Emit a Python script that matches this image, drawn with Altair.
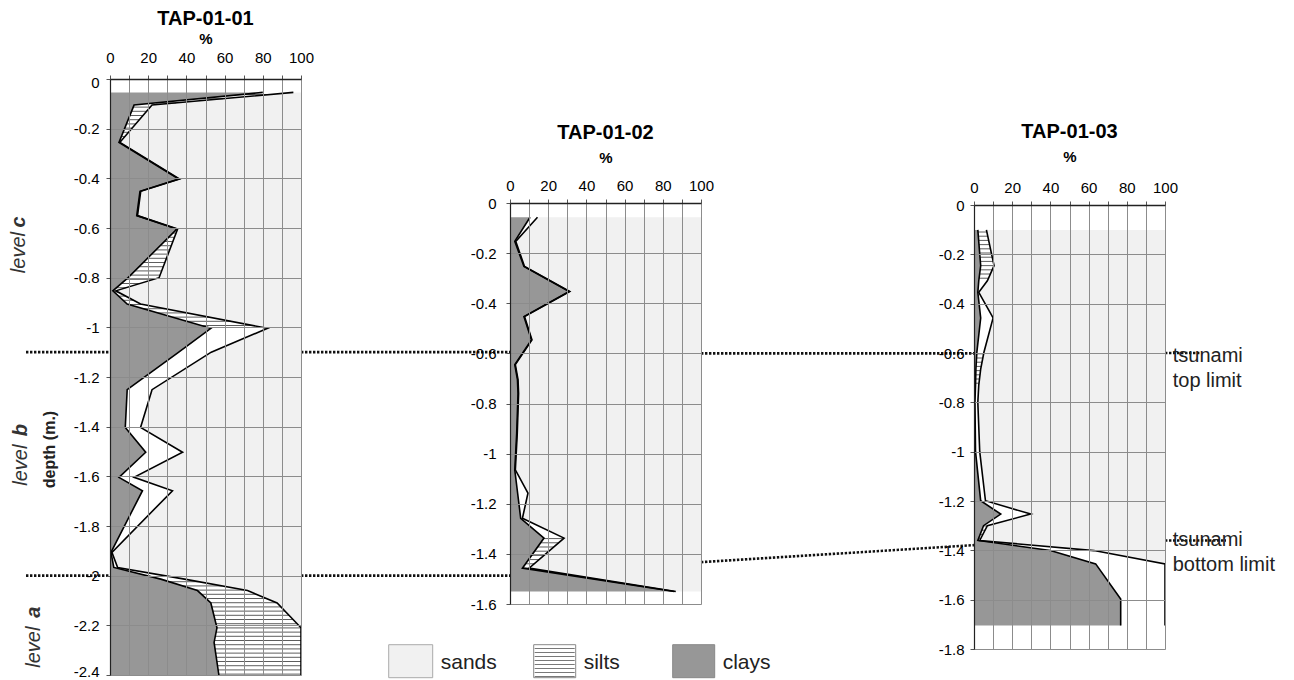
import altair as alt
import pandas as pd
import numpy as np

FONT = "Liberation Sans"
CLAY_COLOR = "#979797"
SAND_COLOR = "#f1f1f1"
GRID_COLOR = "#8c8c8c"
W = 191

# ---------------- data ----------------
# depth (m), clays %, clays+silts % (upper curve); sands = rest up to 100
p1_depth = [-0.054, -0.105, -0.255, -0.403, -0.452, -0.55, -0.604, -0.8, -0.853, -0.906,
            -1.004, -1.1, -1.251, -1.403, -1.503, -1.604, -1.658, -1.906, -1.967, -2.014,
            -2.06, -2.11, -2.21, -2.269, -2.4]
p1_clay = [80, 12.6, 4.7, 36, 15.7, 14, 35, 9.5, 1.5, 9,
           52.8, 36, 9, 8, 18.7, 4.7, 17, 0.5, 2, 26.6,
           45.8, 52.8, 56, 54.5, 57]
p1_clay_silt = [96, 22, 5.2, 36.4, 16.1, 14.4, 35.4, 25.7, 3, 16,
                82.5, 53, 22, 16, 38, 12.6, 32.7, 1, 4, 39,
                72, 87.5, 100, 100, 100]
# hatched silt between sample i and i+1
p1_hatch = [1, 1, 0, 0, 0, 0, 1, 1, 1, 1, 0, 0, 0, 0, 0, 0, 0, 0, 0, 1, 1, 1, 1, 1]

p2_depth = [-0.057, -0.153, -0.253, -0.353, -0.453, -0.546, -0.645, -0.705, -0.76, -0.92,
            -1.065, -1.158, -1.258, -1.337, -1.457, -1.55]
p2_clay = [10.5, 2.5, 7.3, 31, 7.3, 11.2, 2.5, 3.9, 4.2, 3.5, 2.5, 4, 5.6, 17.8, 6.5, 86]
p2_clay_silt = [14.4, 3, 7.6, 31.3, 7.6, 11.5, 2.8, 4.2, 4.5, 3.8, 2.8, 9.4, 6.5, 28.3, 10, 86.8]
p2_hatch = [0, 0, 0, 0, 0, 0, 0, 0, 0, 0, 0, 0, 0, 1, 0]

p3_depth = [-0.101, -0.246, -0.307, -0.354, -0.458, -0.597, -0.665, -0.73, -0.8, -1.0,
            -1.199, -1.253, -1.3, -1.36, -1.401, -1.455, -1.597, -1.705]
p3_clay = [2, 3.5, 2.5, 2, 3.5, 1.5, 1, 0.8, 0.5, 0.8, 3.5, 14, 5, 2, 40, 63.7, 76.8, 76.8]
p3_clay_silt = [6.5, 10.5, 7, 2.5, 10, 5.2, 3.5, 2.5, 2, 3, 6, 29.7, 7, 3, 62.8, 100, 100, 100]
p3_hatch = [1, 1, 0, 0, 0, 1, 1, 0, 0, 0, 0, 0, 1, 0, 0, 0, 0]

titles = ["TAP-01-01", "TAP-01-02", "TAP-01-03"]
x_ticks = list(range(0, 101, 10))
legend_names = ["sands", "silts", "clays"]

# tsunami limits (depth in each core)
p1_limits = [-1.1, -2.0]
p2_top_limit = -0.6
p2_bottom_link = [-1.433, -1.365]
p3_limits = [-0.6, -1.36]


def depth_ticks(ymin):
    n = int(round(-ymin / 0.2))
    return [round(-0.2 * k, 1) for k in range(n + 1)]


def hatch_frame(depth, clay, cs, hatch, ppm, step_px=4.2):
    step = step_px / ppm
    nd = -np.array(depth, dtype=float)
    rows = []
    y = nd[0] + step / 2
    while y < nd[-1]:
        i = int(np.searchsorted(nd, y) - 1)
        i = min(max(i, 0), len(hatch) - 1)
        if hatch[i]:
            a = float(np.interp(y, nd, clay))
            b = float(np.interp(y, nd, cs))
            if b - a > 0.6:
                rows.append({"d": -y, "a": a, "b": b})
        y += step
    return pd.DataFrame(rows, columns=["d", "a", "b"])


def make_panel(name, depth, clay, cs, hatch, ymin, height, xlab_pad, xtitle_pad,
               ylab_pad, ytitle=None, flush=False):
    df = pd.DataFrame({"d": depth, "clay": clay, "cs": cs})
    df["i"] = range(len(df))
    df["zero"] = 0
    df["full"] = 100
    ppm = height / (-ymin)
    hdf = hatch_frame(depth, clay, cs, hatch, ppm)

    xs = alt.Scale(domain=[0, 100], nice=False, zero=False)
    ys = alt.Scale(domain=[ymin, 0], nice=False, zero=False)
    xax = alt.Axis(orient="top", values=x_ticks,
                   labelExpr="datum.value % 20 == 0 ? datum.label : ''",
                   grid=True, gridColor=GRID_COLOR, gridWidth=1,
                   tickSize=4, tickColor="#555", domainColor="#222", domainWidth=1.5,
                   labelFont=FONT, labelFontSize=15, labelColor="black",
                   labelPadding=xlab_pad, labelOverlap=False, labelFlush=False,
                   title="%", titleFont=FONT, titleFontSize=15, titleFontWeight="bold",
                   titleColor="black", titlePadding=xtitle_pad, zindex=1)
    yargs = dict(orient="left", values=depth_ticks(ymin),
                 labelExpr="datum.value == 0 ? '0' : '-' + format(-datum.value, '.1~f')",
                 grid=True, gridColor=GRID_COLOR, gridWidth=1,
                 tickSize=4, tickColor="#555", domainColor="#222", domainWidth=1.2,
                 labelFont=FONT, labelFontSize=15, labelColor="black",
                 labelPadding=ylab_pad, labelOverlap=False, labelFlush=flush, zindex=1)
    if flush:
        yargs.update(labelFlushOffset=4)
    if ytitle:
        yargs.update(title=ytitle, titleFont=FONT, titleFontSize=16, titleFontWeight="bold",
                     titleColor="#222", titleX=-61, titleY=370, titleAngle=270,
                     titleAlign="center", titleBaseline="middle")
    else:
        yargs.update(title=None)
    yax = alt.Axis(**yargs)

    def X(f):
        return alt.X(f, type="quantitative", scale=xs, axis=xax)

    def Y(f):
        return alt.Y(f, type="quantitative", scale=ys, axis=yax)

    base = alt.Chart(df)
    layers = [
        base.mark_area(orient="horizontal", color=SAND_COLOR).encode(x=X("cs"), x2="full", y=Y("d")),
        base.mark_area(orient="horizontal", color="white").encode(x=X("clay"), x2="cs", y=Y("d")),
        base.mark_area(orient="horizontal", color=CLAY_COLOR).encode(x=X("zero"), x2="clay", y=Y("d")),
        alt.Chart(hdf).mark_rule(color="#333", strokeWidth=0.8).encode(x=X("a"), x2="b", y=Y("d")),
        base.mark_line(color="black", strokeWidth=1.6).encode(x=X("clay"), y=Y("d"), order="i:Q"),
        base.mark_line(color="black", strokeWidth=1.6).encode(x=X("cs"), y=Y("d"), order="i:Q"),
    ]
    return layers, X, Y


def dotted_rule(Y, x1, x2, d1, d2=None):
    df = pd.DataFrame({"d": [d1], "d2": [d1 if d2 is None else d2]})
    return alt.Chart(df).mark_rule(color="#111", strokeWidth=2.6, strokeDash=[2.4, 1.6]).encode(
        x=alt.value(x1), x2=alt.value(x2), y=Y("d"), y2="d2")


def text_at(Y, xpx, d, txt, **kw):
    df = pd.DataFrame({"d": [d]})
    return alt.Chart(df).mark_text(font=FONT, **kw).encode(x=alt.value(xpx), y=Y("d"),
                                                           text=alt.value(txt))


# ---------------- panel 1 ----------------
l1, X1, Y1 = make_panel(titles[0], p1_depth, p1_clay, p1_clay_silt, p1_hatch, -2.4, 596,
                        10, 4, 7, ytitle="depth (m.)", flush=True)
lvl = dict(fontSize=20, angle=270, align="center", baseline="middle", color="#333")
for (x, dl, dw, letter) in [(-91, -0.576, -0.699, "c"), (-89, -1.414, -1.555, "b"),
                             (-76, -2.147, -2.288, "a")]:
    l1.append(text_at(Y1, x, dl, letter, fontStyle="italic", fontWeight="bold", **lvl))
    l1.append(text_at(Y1, x, dw, "level", fontStyle="italic", **lvl))
for lim in p1_limits:
    l1.append(dotted_rule(Y1, -84, 0, lim))
    l1.append(dotted_rule(Y1, W, 400, lim))
panel1 = alt.layer(*l1).properties(
    width=W, height=596,
    title=alt.Title(titles[0], fontSize=20, fontWeight="bold", font=FONT, anchor="middle",
                    offset=2, color="black"))

# ---------------- panel 2 ----------------
l2, X2, Y2 = make_panel(titles[1], p2_depth, p2_clay, p2_clay_silt, p2_hatch, -1.6, 401,
                        6, 13, 10)
l2.append(dotted_rule(Y2, W, 464, p2_top_limit))
l2.append(dotted_rule(Y2, W, 464, p2_bottom_link[0], p2_bottom_link[1]))
one = pd.DataFrame({"k": [0]})
swatches = [(-121.3, -77.3, SAND_COLOR, "#aaa"), (23.7, 65.7, "white", "#888"),
            (162.7, 204.7, CLAY_COLOR, "#888")]
for name, (xa, xb, fill, stroke) in zip(legend_names, swatches):
    l2.append(alt.Chart(one).mark_rect(fill=fill, stroke=stroke, strokeWidth=1).encode(
        x=alt.value(xa), x2=alt.value(xb), y=alt.value(441.7), y2=alt.value(474.7)))
    if name == "silts":
        for k in range(8):
            yy = 445.5 + k * 4
            l2.append(alt.Chart(one).mark_rule(color="#555", strokeWidth=0.8).encode(
                x=alt.value(xa + 1), x2=alt.value(xb - 1), y=alt.value(yy)))
    l2.append(alt.Chart(one).mark_text(font=FONT, fontSize=21, align="left", baseline="middle",
                                       color="#222").encode(
        x=alt.value(xb + 8), y=alt.value(459.7), text=alt.value(name)))
panel2 = alt.layer(*l2).properties(
    width=W, height=401,
    title=alt.Title(titles[1], fontSize=20, fontWeight="bold", font=FONT, anchor="middle",
                    offset=7, color="black"))

# ---------------- panel 3 ----------------
l3, X3, Y3 = make_panel(titles[2], p3_depth, p3_clay, p3_clay_silt, p3_hatch, -1.8, 444,
                        6, 16, 6)
l3.append(dotted_rule(Y3, W, 227, p3_limits[0]))
l3.append(dotted_rule(Y3, W, 252, p3_limits[1]))
for d, lines in [(-0.614, ["tsunami", "top limit"]), (-1.36, ["tsunami", "bottom limit"])]:
    df = pd.DataFrame({"d": [d]})
    l3.append(alt.Chart(df).mark_text(font=FONT, fontSize=20, align="left", baseline="middle",
                                      lineHeight=25, color="#222").encode(
        x=alt.value(198.7), y=Y3("d"), text=alt.value(lines)))
panel3 = alt.layer(*l3).properties(
    width=W, height=444,
    title=alt.Title(titles[2], fontSize=20, fontWeight="bold", font=FONT, anchor="middle",
                    offset=7, color="black"))


def spacer(h):
    return alt.Chart(one).mark_point(opacity=0).encode(
        x=alt.X("k:Q", axis=None), y=alt.Y("k:Q", axis=None)
    ).properties(width=W, height=h, view=alt.ViewBackground(strokeOpacity=0))


col2 = alt.vconcat(spacer(123.3), panel2, spacing=0, bounds="flush")
col3 = alt.vconcat(spacer(126), panel3, spacing=0, bounds="flush")
# with flush bounds a nested column counts as zero width, so the gap covers panel 2 too
right = alt.hconcat(col2, col3, spacing=W + 273, bounds="flush")
chart = alt.hconcat(panel1, right, spacing=209, bounds="flush").properties(
    padding={"left": 0, "top": 0, "right": 0, "bottom": 0}
).configure_view(stroke="#333", strokeWidth=1).configure(background="white")

chart.save("out.html", embed_options={"renderer": "svg", "actions": False})
